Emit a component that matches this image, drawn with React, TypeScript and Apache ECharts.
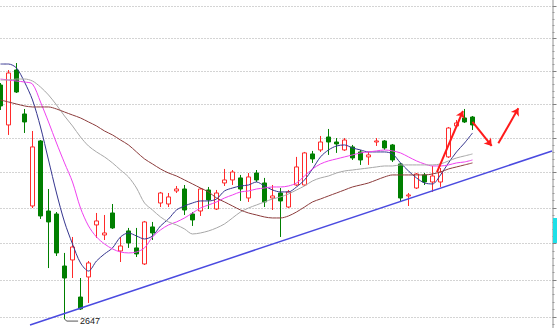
import { useEffect, useRef } from 'react';
import * as echarts from 'echarts';

// ---- data ----
const categories: string[] = Array.from({ length: 70 }, (_, i) => `D${i + 1}`);

// [open, close, lowest, highest]
const ohlc: number[][] = [
  [2978.9, 2947.6, 2941.6, 2981.9],
  [2919.5, 2997.0, 2904.8, 3001.5],
  [3001.5, 2968.4, 2966.9, 3012.1],
  [2935.7, 2923.9, 2907.7, 2943.1],
  [2802.6, 2887.3, 2799.7, 2910.6],
  [2896.0, 2788.5, 2784.3, 2897.4],
  [2795.5, 2780.1, 2716.2, 2826.7],
  [2791.3, 2737.0, 2732.8, 2794.1],
  [2719.0, 2702.6, 2647.0, 2737.0],
  [2727.3, 2745.2, 2702.6, 2759.1],
  [2676.8, 2660.7, 2659.4, 2702.6],
  [2704.0, 2723.2, 2668.8, 2725.9],
  [2775.9, 2781.5, 2757.7, 2792.7],
  [2761.9, 2764.7, 2754.9, 2789.9],
  [2792.7, 2771.7, 2770.3, 2805.4],
  [2739.7, 2746.6, 2724.5, 2759.1],
  [2767.5, 2750.8, 2743.9, 2771.7],
  [2743.9, 2735.6, 2731.4, 2771.7],
  [2721.8, 2780.1, 2720.4, 2781.5],
  [2773.1, 2764.7, 2754.9, 2780.1],
  [2806.8, 2821.0, 2801.1, 2822.5],
  [2805.4, 2815.4, 2801.1, 2821.0],
  [2823.9, 2826.7, 2821.0, 2831.0],
  [2826.7, 2796.9, 2789.9, 2832.4],
  [2791.3, 2782.9, 2774.5, 2794.1],
  [2795.5, 2826.7, 2788.5, 2828.1],
  [2825.3, 2811.1, 2798.3, 2829.6],
  [2798.3, 2821.0, 2796.9, 2825.3],
  [2835.3, 2839.6, 2831.0, 2855.4],
  [2839.6, 2851.0, 2832.4, 2853.9],
  [2842.5, 2826.7, 2809.7, 2846.8],
  [2813.9, 2843.9, 2808.3, 2849.6],
  [2849.6, 2839.6, 2836.7, 2853.9],
  [2835.3, 2808.3, 2801.1, 2842.5],
  [2813.9, 2816.8, 2796.9, 2832.4],
  [2821.0, 2809.7, 2759.1, 2828.1],
  [2801.1, 2822.5, 2799.7, 2825.3],
  [2832.4, 2858.3, 2831.0, 2872.8],
  [2832.4, 2878.6, 2831.0, 2880.0],
  [2877.1, 2869.9, 2864.1, 2881.5],
  [2882.9, 2894.5, 2880.0, 2903.3],
  [2901.8, 2894.5, 2875.7, 2913.6],
  [2894.5, 2891.6, 2878.6, 2900.3],
  [2882.9, 2897.4, 2881.5, 2900.3],
  [2887.3, 2871.3, 2868.4, 2890.2],
  [2880.0, 2868.4, 2861.2, 2882.9],
  [2872.8, 2875.7, 2861.2, 2880.0],
  [2894.5, 2896.0, 2888.7, 2900.3],
  [2896.0, 2885.8, 2882.9, 2897.4],
  [2890.2, 2868.4, 2865.5, 2891.6],
  [2862.6, 2813.9, 2809.7, 2864.1],
  [2816.8, 2818.2, 2802.6, 2821.0],
  [2828.1, 2848.2, 2826.7, 2849.6],
  [2846.8, 2836.7, 2832.4, 2849.6],
  [2836.7, 2845.3, 2822.5, 2859.7],
  [2836.7, 2851.0, 2829.6, 2856.8],
  [2872.8, 2915.0, 2871.3, 2916.5],
  [2918.0, 2922.4, 2916.5, 2926.8],
  [2929.8, 2923.9, 2922.4, 2943.1],
  [2931.2, 2919.5, 2912.1, 2932.7],
];

const ma5: number[] = [
  3010.6, 3010.6, 3004.5, 2983.4, 2956.5, 2916.5, 2868.4, 2821.0, 2780.1, 2749.4,
  2723.2, 2712.1, 2725.9, 2735.6, 2743.9, 2759.1, 2764.7, 2760.5, 2756.3, 2760.5,
  2774.5, 2784.3, 2796.9, 2802.6, 2806.8, 2809.7, 2809.7, 2812.5, 2823.9, 2828.1,
  2831.0, 2832.4, 2836.7, 2831.0, 2825.3, 2822.5, 2822.5, 2829.6, 2839.6, 2855.4,
  2872.8, 2882.9, 2888.7, 2890.2, 2885.8, 2882.9, 2880.0, 2880.0, 2880.0, 2877.1,
  2864.1, 2852.5, 2842.5, 2835.3, 2833.9, 2846.8, 2864.1, 2880.0, 2893.0, 2907.7,
];

const ma10: number[] = [
  2987.9, 2986.4, 2984.9, 2983.4, 2980.4, 2953.5, 2923.9, 2893.0, 2864.1, 2836.7,
  2799.7, 2774.5, 2759.1, 2749.4, 2742.5, 2738.3, 2737.0, 2738.3, 2743.9, 2759.1,
  2768.9, 2775.9, 2780.1, 2785.7, 2792.7, 2799.7, 2804.0, 2808.3, 2813.9, 2818.2,
  2822.5, 2823.9, 2826.7, 2828.1, 2829.6, 2829.6, 2831.0, 2835.3, 2845.3, 2855.4,
  2862.6, 2867.0, 2869.9, 2872.8, 2875.7, 2878.6, 2880.0, 2881.5, 2882.9, 2881.5,
  2878.6, 2872.8, 2867.0, 2862.6, 2859.7, 2859.7, 2861.2, 2864.1, 2865.5, 2868.4,
];

const ma20: number[] = [
  2986.4, 2986.4, 2987.9, 2987.9, 2984.9, 2975.9, 2964.0, 2949.1, 2932.7, 2918.0,
  2901.8, 2888.7, 2880.0, 2872.8, 2864.1, 2853.9, 2843.9, 2828.1, 2806.8, 2796.9,
  2787.1, 2780.1, 2775.9, 2770.3, 2763.3, 2764.7, 2767.5, 2771.7, 2777.3, 2785.7,
  2794.1, 2799.7, 2804.0, 2808.3, 2812.5, 2815.4, 2819.6, 2825.3, 2831.0, 2838.2,
  2842.5, 2845.3, 2849.6, 2852.5, 2853.9, 2855.4, 2856.8, 2858.3, 2859.7, 2859.7,
  2861.2, 2861.2, 2861.2, 2861.2, 2861.2, 2862.6, 2867.0, 2871.3, 2874.2, 2877.1,
];

const ma60: number[] = [
  2956.5, 2953.5, 2950.5, 2947.6, 2946.1, 2946.1, 2946.1, 2943.1, 2938.6, 2934.2,
  2929.8, 2923.9, 2918.0, 2910.6, 2904.8, 2897.4, 2890.2, 2880.0, 2869.9, 2862.6,
  2855.4, 2849.6, 2845.3, 2839.6, 2833.9, 2828.1, 2822.5, 2813.9, 2808.3, 2802.6,
  2796.9, 2792.7, 2789.9, 2787.1, 2785.7, 2785.7, 2788.5, 2794.1, 2801.1, 2808.3,
  2812.5, 2816.8, 2821.0, 2825.3, 2829.6, 2832.4, 2835.3, 2839.6, 2843.9, 2846.8,
  2846.8, 2846.8, 2846.8, 2846.8, 2848.2, 2851.0, 2855.4, 2858.3, 2861.2, 2864.1,
];

// horizontal grid prices (dotted lines)
const gridPrices: number[] = [2650, 2700, 2750, 2800, 2850, 2900, 2950, 3000, 3050, 3100];
const yMin = 2635.3;
const yMax = 3109.4;

// support trend line: [index, price] endpoints
const trendLine: number[][] = [
  [3.69, 2639.3],
  [68.94, 2881.4],
];

// red annotation strokes: [fromIndex, fromPrice, toIndex, toPrice]
const arrows: number[][] = [
  [54.56, 2851.0, 57.81, 2940.1],
  [59.0, 2923.9, 61.4, 2888.7],
  [62.23, 2892.6, 64.73, 2944.1],
];

const lowIndex = 8;
const lowValue = 2647;

export default function App() {
  const ref = useRef<HTMLDivElement>(null);

  useEffect(() => {
    if (!ref.current) return;
    const chart = echarts.init(ref.current, null, { renderer: 'svg' });

    const minorTicks = gridPrices
      .flatMap((p) => [10, 20, 30, 40].map((d) => p + d))
      .concat([gridPrices[0] - 10])
      .filter((v) => v < yMax && v > yMin);

    const maDefs = [
      { name: 'MA5', data: ma5, color: '#35358f' },
      { name: 'MA10', data: ma10, color: '#f040f0' },
      { name: 'MA20', data: ma20, color: '#a8a8a8' },
      { name: 'MA60', data: ma60, color: '#8c3c3c' },
    ];

    const option: any = {
      animation: false,
      backgroundColor: '#ffffff',
      grid: [
        { left: 0.5, top: 0, width: 552, height: 328, outerBoundsMode: 'none', containLabel: false },
        { left: 0.5, top: 0, width: 552, height: 328, outerBoundsMode: 'none', containLabel: false },
      ],
      xAxis: [
        { type: 'category', gridIndex: 0, data: categories, boundaryGap: false, show: false },
        { type: 'value', gridIndex: 0, min: 0, max: categories.length - 1, show: false },
        { type: 'value', gridIndex: 1, min: 0, max: 1, show: false },
      ],
      yAxis: [
        {
          type: 'log',
          gridIndex: 0,
          min: yMin,
          max: yMax,
          position: 'right',
          axisLine: { show: true, onZero: false, lineStyle: { color: '#c8c8c8', width: 2 } },
          axisTick: { show: true, customValues: gridPrices, length: 4, lineStyle: { color: '#808080' } },
          axisLabel: { show: false },
          splitLine: { show: true, lineStyle: { color: '#a8a8a8', width: 1, type: [1, 2] } },
          minorTick: { show: false },
          minorSplitLine: { show: false },
        },
        {
          type: 'log',
          gridIndex: 1,
          min: yMin,
          max: yMax,
          position: 'right',
          axisLine: { show: false, onZero: false },
          axisTick: { show: true, customValues: minorTicks, length: 2, lineStyle: { color: '#9a9a9a' } },
          axisLabel: { show: false },
          splitLine: { show: false },
        },
      ],
      series: [
        {
          type: 'candlestick',
          name: 'K',
          xAxisIndex: 0,
          yAxisIndex: 0,
          data: ohlc,
          barWidth: 5,
          itemStyle: {
            color: '#ffffff',
            color0: '#007f00',
            borderColor: '#ff2a2a',
            borderColor0: '#007f00',
            borderWidth: 1,
          },
        },
        ...maDefs.map((m) => ({
          type: 'line',
          name: m.name,
          xAxisIndex: 0,
          yAxisIndex: 0,
          data: m.data,
          symbol: 'none',
          smooth: 0.3,
          lineStyle: { color: m.color, width: 1 },
          z: 3,
        })),
        {
          type: 'line',
          name: 'trend',
          xAxisIndex: 1,
          yAxisIndex: 0,
          data: trendLine,
          symbol: 'none',
          lineStyle: { color: '#4a4ae0', width: 1.5 },
          z: 4,
        },
        {
          type: 'line',
          name: 'low',
          xAxisIndex: 1,
          yAxisIndex: 0,
          data: [
            [lowIndex, lowValue],
            [lowIndex + 0.3, lowValue - 2.5],
            [lowIndex + 1.7, lowValue - 2.5],
          ],
          symbol: 'none',
          lineStyle: { color: '#555555', width: 1 },
          endLabel: {
            show: true,
            formatter: String(lowValue),
            fontSize: 9,
            fontFamily: 'Liberation Sans, Arial, sans-serif',
            color: '#222222',
            distance: 2,
          },
          z: 4,
        },
        {
          type: 'lines',
          name: 'arrows',
          coordinateSystem: 'cartesian2d',
          xAxisIndex: 1,
          yAxisIndex: 0,
          symbol: ['none', 'arrow'],
          symbolSize: [5, 7],
          lineStyle: { color: '#ff1a1a', width: 2, opacity: 1 },
          data: arrows.map((a) => ({
            coords: [
              [a[0], a[1]],
              [a[2], a[3]],
            ],
          })),
          z: 5,
        },
      ],
      graphic: [
        {
          type: 'rect',
          shape: { x: 553, y: 218, width: 4, height: 25 },
          style: { fill: '#1ee0e8' },
          z: 10,
        },
      ],
    };

    chart.setOption(option);
    return () => chart.dispose();
  }, []);

  return (
    <div
      ref={ref}
      style={{ position: 'absolute', left: 0, top: 0, width: 557, height: 328, background: '#ffffff' }}
    />
  );
}
